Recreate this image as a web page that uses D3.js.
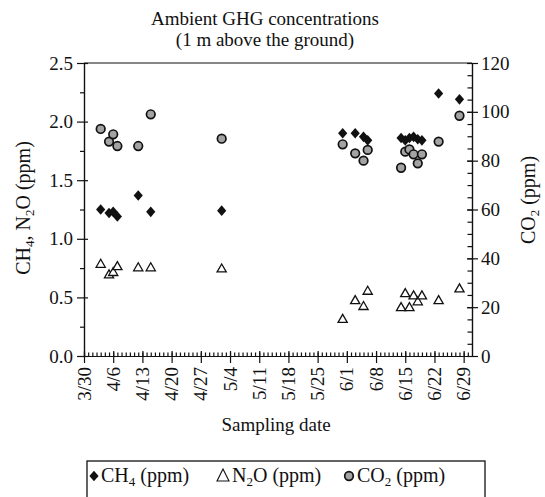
<!DOCTYPE html>
<html>
<head>
<meta charset="utf-8">
<script src="https://cdn.jsdelivr.net/npm/d3@7"></script>
<style>
  body { margin: 0; background: #fff; }
  svg text { font-family: "Liberation Serif", "Times New Roman", serif; fill: #111; }
  .axis path, .axis line { stroke: #111; stroke-width: 1.2; }
</style>
</head>
<body>
<div id="chart"></div>
<script>
// sampling dates (month/day) and measured concentrations
var sampleDates = ["4/3","4/5","4/6","4/7","4/12","4/15","5/2","5/31","6/3","6/5","6/6",
                   "6/14","6/15","6/16","6/17","6/18","6/19","6/23","6/28"];
var ch4 = [1.25,1.22,1.23,1.19,1.37,1.23,1.24,1.90,1.90,1.87,1.84,
           1.86,1.84,1.86,1.87,1.85,1.84,2.24,2.19];
var n2o = [0.78,0.69,0.71,0.76,0.75,0.75,0.74,0.31,0.47,0.42,0.55,
           0.41,0.53,0.41,0.51,0.46,0.51,0.47,0.57];
var co2 = [93.0,87.8,90.8,86.0,86.0,99.0,89.0,86.7,83.0,80.0,84.4,
           77.1,83.7,84.6,82.6,78.9,82.6,87.8,98.4];

var xTickLabels = ["3/30","4/6","4/13","4/20","4/27","5/4","5/11","5/18","5/25",
                   "6/1","6/8","6/15","6/22","6/29"];
var leftTicks = [0, 0.5, 1.0, 1.5, 2.0, 2.5];
var rightTicks = [0, 20, 40, 60, 80, 100, 120];

var serif = '"Liberation Serif", "Times New Roman", serif';

function toDate(s) {
    var p = s.split("/");
    return new Date(Date.UTC(2002, +p[0] - 1, +p[1]));
}

var margin = {top: 63, right: 73, bottom: 141, left: 84},
    width = 545 - margin.left - margin.right,
    height = 497 - margin.top - margin.bottom;

var svg = d3.select("#chart").append("svg")
    .attr("width", 545)
    .attr("height", 497);

var g = svg.append("g")
    .attr("transform", "translate(" + margin.left + "," + margin.top + ")");

var x = d3.scaleUtc()
    .domain([toDate("3/30"), toDate("7/1")])
    .range([0, width]);
var yL = d3.scaleLinear().domain([0, 2.5]).range([height, 0]);
var yR = d3.scaleLinear().domain([0, 120]).range([height, 0]);

// minor ticks
var days = d3.utcDay.range(toDate("3/30"), toDate("7/1"));
g.append("g").attr("class", "axis")
    .attr("transform", "translate(0," + height + ")")
    .call(d3.axisBottom(x).tickValues(days).tickSize(-3.5).tickSizeOuter(0).tickFormat(""));
g.append("g").attr("class", "axis")
    .call(d3.axisLeft(yL).tickValues([0.25, 0.75, 1.25, 1.75, 2.25]).tickSize(4).tickSizeOuter(0).tickFormat(""));
g.append("g").attr("class", "axis")
    .attr("transform", "translate(" + width + ",0)")
    .call(d3.axisRight(yR).tickValues(d3.range(5, 120, 5)).tickSize(-4.5).tickSizeOuter(0).tickFormat(""));

// major ticks, crossing the axis lines
var xMajor = xTickLabels.map(toDate);
var xAxis = g.append("g").attr("class", "axis")
    .attr("transform", "translate(0," + height + ")")
    .call(d3.axisBottom(x).tickValues(xMajor).tickSize(7).tickSizeOuter(0).tickFormat(""));
xAxis.selectAll(".tick line").attr("y1", -5);

var lAxis = g.append("g").attr("class", "axis")
    .call(d3.axisLeft(yL).tickValues(leftTicks).tickSize(7).tickSizeOuter(0)
        .tickFormat(d3.format(".1f")));
lAxis.attr("font-family", serif);
lAxis.selectAll(".tick line").attr("x1", 4);
lAxis.selectAll("text").attr("x", -11)
    .style("font-family", serif).style("font-size", "19px");

var rAxis = g.append("g").attr("class", "axis")
    .attr("transform", "translate(" + width + ",0)")
    .call(d3.axisRight(yR).tickValues(rightTicks).tickSize(6).tickSizeOuter(0));
rAxis.attr("font-family", serif);
rAxis.selectAll(".tick line").attr("x1", -5);
rAxis.selectAll("text").attr("x", 9)
    .style("font-family", serif).style("font-size", "19px");

// x tick labels, rotated
g.append("g").selectAll("text")
    .data(xTickLabels)
    .enter().append("text")
    .attr("transform", function(d) {
        return "translate(" + x(toDate(d)) + "," + (height + 11) + ") rotate(-90)";
    })
    .attr("text-anchor", "end")
    .attr("dy", "0.35em")
    .style("font-family", serif)
    .style("font-size", "19px")
    .text(function(d) { return d; });

// top border of the frame
g.append("line")
    .attr("x1", 0).attr("x2", width)
    .attr("y1", 0).attr("y2", 0)
    .attr("stroke", "#111").attr("stroke-width", 1.2);

// marker shapes
function diamond(cx, cy) {
    return "M" + cx + "," + (cy - 5.3) + "L" + (cx + 4.6) + "," + cy + "L" + cx + "," + (cy + 5.3) +
           "L" + (cx - 4.6) + "," + cy + "Z";
}
function triangle(cx, cy) {
    return "M" + cx + "," + (cy - 5.3) + "L" + (cx + 4.6) + "," + (cy + 2.7) +
           "L" + (cx - 4.6) + "," + (cy + 2.7) + "Z";
}

var rows = sampleDates.map(function(d, i) {
    return {date: toDate(d), ch4: ch4[i], n2o: n2o[i], co2: co2[i]};
});

g.append("g").selectAll("path")
    .data(rows)
    .enter().append("path")
    .attr("d", function(d) { return triangle(x(d.date), yL(d.n2o)); })
    .attr("fill", "#fff")
    .attr("stroke", "#111")
    .attr("stroke-width", 1.3);

g.append("g").selectAll("circle")
    .data(rows)
    .enter().append("circle")
    .attr("cx", function(d) { return x(d.date); })
    .attr("cy", function(d) { return yR(d.co2); })
    .attr("r", 4.3)
    .attr("fill", "#a3a3a3")
    .attr("stroke", "#111")
    .attr("stroke-width", 1.7);

g.append("g").selectAll("path")
    .data(rows)
    .enter().append("path")
    .attr("d", function(d) { return diamond(x(d.date), yL(d.ch4)); })
    .attr("fill", "#111");

// titles
svg.append("text")
    .attr("x", 265).attr("y", 25)
    .attr("text-anchor", "middle")
    .style("font-size", "19px")
    .text("Ambient GHG concentrations");
svg.append("text")
    .attr("x", 265).attr("y", 46)
    .attr("text-anchor", "middle")
    .style("font-size", "19px")
    .text("(1 m above the ground)");

svg.append("text")
    .attr("x", 276).attr("y", 431)
    .attr("text-anchor", "middle")
    .style("font-size", "19px")
    .text("Sampling date");

function subLabel(sel, parts) {
    parts.forEach(function(p) {
        sel.append("tspan")
            .attr("dy", p[1] ? 4 : (p[2] ? -4 : 0))
            .style("font-size", p[1] ? "13px" : null)
            .text(p[0]);
    });
}

var yLeftTitle = svg.append("text")
    .attr("transform", "translate(30,208) rotate(-90)")
    .attr("text-anchor", "middle")
    .style("font-size", "20px");
subLabel(yLeftTitle, [["CH"], ["4", true], [", N", false, true], ["2", true], ["O (ppm)", false, true]]);

var yRightTitle = svg.append("text")
    .attr("transform", "translate(535,200) rotate(-90)")
    .attr("text-anchor", "middle")
    .style("font-size", "20px");
subLabel(yRightTitle, [["CO"], ["2", true], [" (ppm)", false, true]]);

// legend
var legend = svg.append("g");
legend.append("rect")
    .attr("x", 87).attr("y", 461)
    .attr("width", 398).attr("height", 60)
    .attr("fill", "none")
    .attr("stroke", "#111")
    .attr("stroke-width", 1.3);

legend.append("path").attr("d", diamond(94, 476)).attr("fill", "#111");
legend.append("path").attr("d", "M223,469L229,481L217,481Z")
    .attr("fill", "#fff").attr("stroke", "#111").attr("stroke-width", 1.1);
legend.append("circle").attr("cx", 349).attr("cy", 476).attr("r", 4.3)
    .attr("fill", "#a3a3a3").attr("stroke", "#111").attr("stroke-width", 1.7);

var l1 = legend.append("text").attr("x", 101).attr("y", 482).style("font-size", "20px");
subLabel(l1, [["CH"], ["4", true], [" (ppm)", false, true]]);
var l2 = legend.append("text").attr("x", 232).attr("y", 482).style("font-size", "20px");
subLabel(l2, [["N"], ["2", true], ["O (ppm)", false, true]]);
var l3 = legend.append("text").attr("x", 357).attr("y", 482).style("font-size", "20px");
subLabel(l3, [["CO"], ["2", true], [" (ppm)", false, true]]);
</script>
</body>
</html>
